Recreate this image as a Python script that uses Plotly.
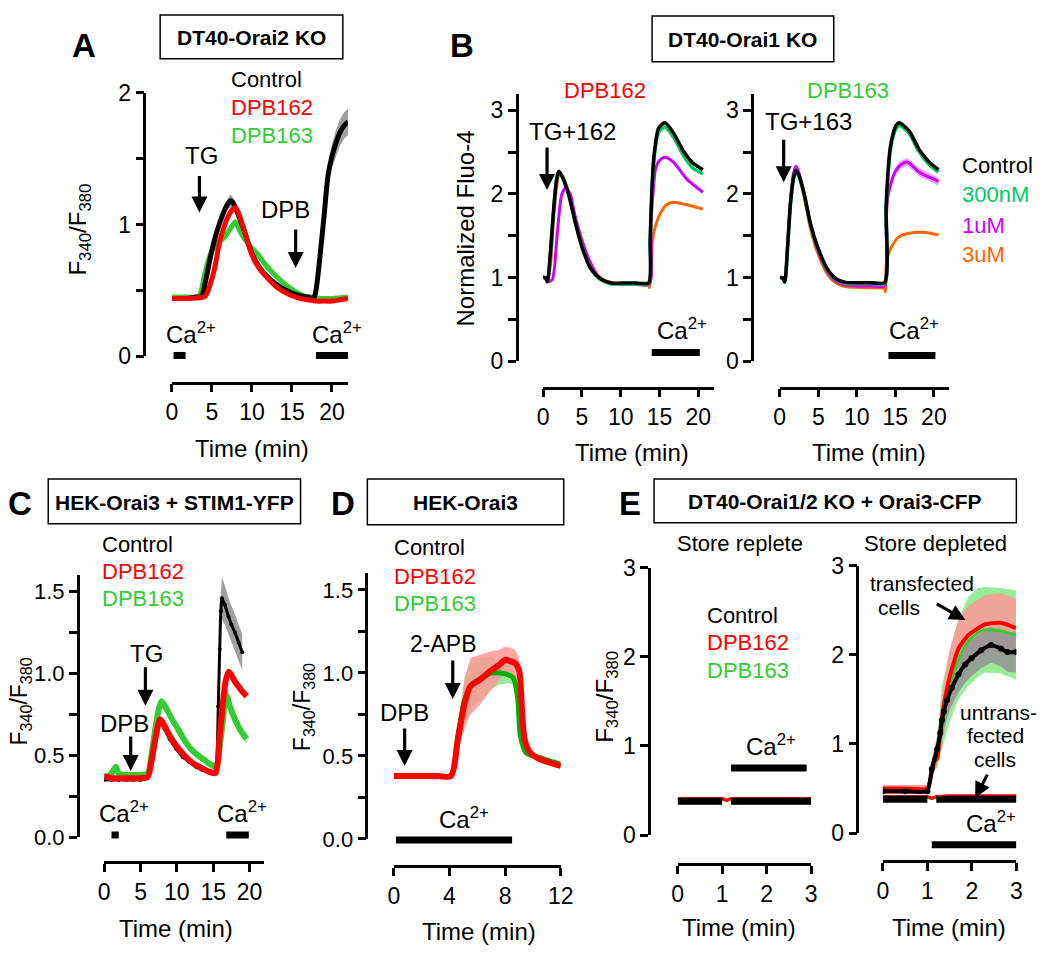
import plotly.graph_objects as go

W, H = 1050, 959
FONT = "Liberation Sans, Arial, Helvetica, sans-serif"

BLACK = "#000000"
RED = "#ff0000"
GREEN = "#33cc33"
TEAL = "#00cc66"
PURPLE = "#cc00ff"
ORANGE = "#ff6600"
GRAY_BAND = "rgba(150,150,150,0.9)"
PINK_BAND = "rgba(255,150,150,0.85)"
LGREEN_BAND = "rgba(140,235,140,0.9)"
LPURPLE_BAND = "rgba(225,150,255,0.8)"

# ---------------- DATA ----------------
# Panel A  (DT40-Orai2 KO)
A_ctrl_t = [0, 1, 2, 3, 3.5, 3.8, 4.3, 4.8, 5.3, 6, 6.5, 7, 7.3, 7.7, 8, 8.5, 9, 10, 11, 12, 13, 14, 15, 16, 17, 17.7,
            18, 18.5, 19, 19.5, 20, 20.5, 21, 21.5, 22]
A_ctrl = [0.44, 0.44, 0.44, 0.45, 0.45, 0.47, 0.60, 0.75, 0.88, 1.02, 1.10, 1.16, 1.18, 1.16, 1.12, 1.04, 0.96, 0.78,
          0.67, 0.60, 0.55, 0.51, 0.48, 0.46, 0.45, 0.44, 0.50, 0.76, 1.06, 1.37, 1.52, 1.62, 1.70, 1.75, 1.78]
A_ctrl_sem = [0.01, 0.01, 0.01, 0.01, 0.01, 0.01, 0.02, 0.02, 0.03, 0.03, 0.04, 0.04, 0.05, 0.04, 0.04, 0.03, 0.03,
              0.02, 0.02, 0.02, 0.01, 0.01, 0.01, 0.01, 0.01, 0.01, 0.02, 0.04, 0.06, 0.08, 0.09, 0.10, 0.10, 0.10, 0.10]
A_162_t = [0, 2, 4, 4.3, 4.8, 5.3, 6, 6.5, 7, 7.5, 7.9, 8.3, 9, 10, 11, 12, 13, 14, 15, 16, 17, 18, 19, 20, 21, 22]
A_162 = [0.44, 0.44, 0.45, 0.47, 0.55, 0.66, 0.88, 0.98, 1.06, 1.11, 1.13, 1.09, 0.96, 0.77, 0.66, 0.59, 0.53, 0.49,
         0.46, 0.44, 0.43, 0.42, 0.42, 0.42, 0.43, 0.44]
A_163_t = [0, 2, 3, 3.5, 4, 4.5, 5, 5.8, 6.5, 7.2, 7.9, 8.5, 9.2, 10, 10.8, 11.5, 12.5, 13.5, 14.5, 15.5, 16.5, 17.5,
           18.5, 20, 22]
A_163 = [0.45, 0.45, 0.45, 0.47, 0.60, 0.72, 0.80, 0.87, 0.90, 0.96, 1.02, 0.95, 0.88, 0.82, 0.77, 0.71, 0.64, 0.58,
         0.53, 0.49, 0.46, 0.45, 0.44, 0.44, 0.45]
A_163_sem = [0.01, 0.01, 0.01, 0.02, 0.03, 0.03, 0.03, 0.03, 0.03, 0.03, 0.03, 0.03, 0.03, 0.03, 0.03, 0.03, 0.03,
             0.02, 0.02, 0.02, 0.01, 0.01, 0.01, 0.01, 0.01]

# Panel B left (DPB162)
B162_t = [0, 0.3, 0.55, 0.9, 1.3, 1.7, 2.0, 2.4, 3.3, 4.1, 5.0, 6.2, 7.5, 8.8, 10, 12, 13.6, 13.8, 14.0, 14.3, 14.9,
          15.7, 16.8, 18.1, 19.3, 20.6]
B162_ctrl = [1.0, 1.0, 0.95, 1.25, 1.75, 2.15, 2.27, 2.22, 1.99, 1.68, 1.37, 1.10, 0.98, 0.935, 0.935, 0.935, 0.935,
             1.45, 2.0, 2.46, 2.79, 2.85, 2.73, 2.51, 2.37, 2.29]
B162_300 = [1.0, 1.0, 0.95, 1.23, 1.73, 2.14, 2.26, 2.22, 1.99, 1.68, 1.37, 1.10, 0.97, 0.925, 0.925, 0.925, 0.925,
            1.42, 1.95, 2.42, 2.74, 2.80, 2.68, 2.46, 2.31, 2.24]
B162_1u_t = [0, 0.3, 0.7, 1.2, 1.8, 2.4, 2.9, 3.5, 4.1, 5.0, 6.2, 7.2, 8.4, 10, 12, 13.7, 13.9, 14.2, 14.5, 15.0,
             15.7, 16.8, 18.5, 20.6]
B162_1u = [1.0, 1.0, 0.95, 0.98, 1.50, 1.99, 2.07, 2.00, 1.74, 1.44, 1.16, 1.00, 0.94, 0.92, 0.92, 0.92, 1.64, 2.05,
           2.30, 2.40, 2.44, 2.38, 2.18, 2.02]
B162_3u_t = [0, 0.3, 0.6, 1.0, 1.4, 1.8, 2.1, 2.5, 3.3, 4.1, 5.0, 6.2, 7.5, 8.8, 10, 12, 13.5, 13.7, 14.0, 14.3, 14.7,
             15.3, 15.9, 16.8, 18.5, 20.6]
B162_3u = [1.0, 1.0, 0.96, 1.20, 1.75, 2.12, 2.25, 2.21, 2.02, 1.74, 1.45, 1.14, 0.99, 0.94, 0.93, 0.93, 0.93, 0.88,
           1.37, 1.55, 1.68, 1.80, 1.87, 1.90, 1.87, 1.82]

# Panel B right (DPB163)
B163_t = [0, 0.35, 0.64, 1.0, 1.4, 1.8, 2.1, 2.5, 3.2, 4.0, 4.9, 6.2, 7.4, 8.7, 10, 12, 13.6, 13.8, 14.0, 14.3, 14.7,
          15.1, 15.5, 16.8, 18.1, 19.4, 20.6]
B163_ctrl = [1.0, 1.0, 0.95, 1.35, 1.90, 2.20, 2.28, 2.22, 1.99, 1.64, 1.37, 1.10, 0.98, 0.94, 0.94, 0.94, 0.94, 1.84,
             2.20, 2.53, 2.72, 2.82, 2.85, 2.75, 2.53, 2.38, 2.29]
B163_300 = [1.0, 1.0, 0.94, 1.33, 1.88, 2.18, 2.26, 2.21, 1.98, 1.63, 1.36, 1.09, 0.97, 0.93, 0.93, 0.93, 0.93, 1.80,
            2.15, 2.48, 2.68, 2.78, 2.82, 2.72, 2.50, 2.35, 2.26]
B163_1u_t = [0, 0.35, 0.64, 1.0, 1.4, 1.8, 2.1, 2.5, 3.2, 4.0, 4.9, 6.2, 7.4, 8.7, 10, 12, 13.6, 13.8, 14.0, 14.5,
             15.0, 15.7, 16.6, 18.1, 19.4, 20.6]
B163_1u = [1.0, 1.0, 0.95, 1.35, 1.92, 2.25, 2.33, 2.25, 1.98, 1.62, 1.34, 1.07, 0.95, 0.91, 0.90, 0.90, 0.90, 1.64,
           1.95, 2.15, 2.27, 2.35, 2.38, 2.26, 2.20, 2.15]
B163_1u_sem = [0.01, 0.01, 0.01, 0.02, 0.02, 0.02, 0.02, 0.02, 0.02, 0.02, 0.02, 0.02, 0.02, 0.02, 0.02, 0.02, 0.02,
               0.04, 0.05, 0.05, 0.05, 0.05, 0.05, 0.05, 0.05, 0.05]
B163_3u_t = [0, 0.35, 0.64, 1.0, 1.4, 1.8, 2.1, 2.5, 3.2, 4.0, 4.9, 6.2, 7.4, 8.7, 10, 12, 13.6, 13.7, 13.8, 14.0,
             14.5, 15.5, 16.8, 18.9, 20.6]
B163_3u = [1.0, 1.0, 0.95, 1.35, 1.92, 2.23, 2.31, 2.22, 1.95, 1.58, 1.30, 1.04, 0.93, 0.89, 0.885, 0.88, 0.87, 0.83,
           1.14, 1.25, 1.37, 1.49, 1.53, 1.54, 1.51]

# Panel C (HEK-Orai3 + STIM1-YFP)
C_ctrl_t = [0, 1, 2, 3, 4, 5, 5.9, 6.5, 7, 7.7, 8.3, 9, 9.9, 10.8, 11.7, 12.6, 13.5, 14.4, 15.3, 15.5, 15.7, 15.9,
            16.05, 16.2, 16.6, 17.1, 17.5, 18.0, 18.5, 19.0]
C_ctrl = [0.35, 0.35, 0.35, 0.35, 0.35, 0.35, 0.36, 0.45, 0.57, 0.70, 0.66, 0.60, 0.54, 0.49, 0.46, 0.43, 0.41, 0.40,
          0.39, 0.45, 0.80, 1.15, 1.38, 1.46, 1.42, 1.35, 1.30, 1.25, 1.19, 1.13]
C_ctrl_sem = [0.01, 0.01, 0.01, 0.01, 0.01, 0.01, 0.01, 0.01, 0.01, 0.01, 0.01, 0.01, 0.01, 0.01, 0.01, 0.01, 0.01,
              0.01, 0.01, 0.02, 0.05, 0.08, 0.11, 0.13, 0.12, 0.11, 0.11, 0.11, 0.11, 0.11]
C_162_t = [0, 1, 2, 3, 4, 5, 6, 6.5, 7, 7.7, 8.3, 9, 9.9, 10.8, 11.7, 12.6, 13.5, 14.4, 15.3, 15.6, 15.9, 16.3, 16.7,
           17.1, 17.5, 18.0, 18.5, 19.0, 19.6]
C_162 = [0.37, 0.36, 0.36, 0.36, 0.36, 0.36, 0.37, 0.46, 0.59, 0.72, 0.68, 0.62, 0.56, 0.51, 0.47, 0.44, 0.42, 0.40,
         0.39, 0.45, 0.62, 0.80, 0.95, 1.01, 0.99, 0.95, 0.92, 0.89, 0.86]
C_163_t = [0, 0.8, 1.3, 1.6, 2.0, 3, 4, 5, 6, 6.5, 7, 7.5, 7.9, 8.5, 9.2, 9.9, 10.8, 11.7, 12.6, 13.5, 14.4, 15.3,
           15.6, 15.9, 16.3, 16.6, 16.9, 17.3, 18.0, 18.8, 19.6]
C_163 = [0.37, 0.38, 0.41, 0.43, 0.39, 0.38, 0.38, 0.38, 0.39, 0.50, 0.65, 0.78, 0.83, 0.79, 0.73, 0.68, 0.61, 0.55,
         0.51, 0.48, 0.45, 0.43, 0.45, 0.55, 0.70, 0.82, 0.86, 0.80, 0.72, 0.65, 0.60]
C_163_sem = [0.01, 0.01, 0.01, 0.01, 0.01, 0.01, 0.01, 0.01, 0.01, 0.02, 0.02, 0.02, 0.02, 0.02, 0.02, 0.02, 0.02,
             0.02, 0.02, 0.02, 0.02, 0.02, 0.02, 0.03, 0.05, 0.06, 0.06, 0.05, 0.04, 0.03, 0.03]

# Panel D (HEK-Orai3)
D_162_t = [0, 1, 2, 3, 4.1, 4.6, 5.1, 5.5, 6.2, 6.9, 7.6, 8.0, 8.4, 8.7, 9.0, 9.1, 9.2, 9.4, 9.8, 10.5, 11.2, 12]
D_162 = [0.38, 0.38, 0.38, 0.38, 0.38, 0.60, 0.82, 0.92, 0.96, 1.01, 1.05, 1.08, 1.07, 1.06, 1.02, 0.95, 0.80, 0.60,
         0.52, 0.48, 0.46, 0.44]
D_162_sem = [0.01, 0.01, 0.01, 0.01, 0.01, 0.08, 0.15, 0.17, 0.15, 0.12, 0.09, 0.08, 0.08, 0.08, 0.07, 0.05, 0.04,
             0.03, 0.02, 0.01, 0.01, 0.01]
D_163_t = [0, 1, 2, 3, 4.1, 4.6, 5.1, 5.6, 6.3, 7.0, 7.6, 8.2, 8.6, 8.9, 9.1, 9.5, 10.5, 11.2, 12]
D_163 = [0.38, 0.38, 0.38, 0.38, 0.38, 0.62, 0.84, 0.93, 0.97, 1.00, 1.00, 0.99, 0.97, 0.85, 0.62, 0.52, 0.49, 0.47,
         0.45]
D_163_sem = [0.01, 0.01, 0.01, 0.01, 0.01, 0.08, 0.14, 0.14, 0.13, 0.10, 0.07, 0.05, 0.04, 0.03, 0.02, 0.02, 0.01,
             0.01, 0.01]

# Panel E left (store replete)
E1_ctrl_t = [0, 0.5, 1.0, 1.05, 1.2, 1.5, 2, 2.5, 3]
E1_ctrl = [0.38, 0.38, 0.38, None, 0.38, 0.38, 0.38, 0.38, 0.38]
E1_t = [0, 0.5, 1.0, 1.1, 1.2, 1.5, 2, 2.5, 3]
E1_162 = [0.41, 0.41, 0.41, 0.39, 0.41, 0.41, 0.41, 0.41, 0.41]
E1_163 = [0.40, 0.40, 0.40, 0.39, 0.40, 0.40, 0.40, 0.40, 0.40]

# Panel E right (store depleted) - transfected
E2_ctrl_t = [0, 0.5, 1.0, 1.1, 1.22, 1.29, 1.33, 1.37, 1.44, 1.55, 1.7, 1.85, 1.99, 2.21, 2.43, 2.65, 2.8, 2.99]
E2_ctrl = [0.47, 0.47, 0.47, 0.72, 0.94, 1.12, 1.27, 1.36, 1.49, 1.63, 1.78, 1.89, 1.96, 2.05, 2.11, 2.07, 2.03, 2.03]
E2_ctrl_sem = [0.03, 0.03, 0.03, 0.10, 0.15, 0.18, 0.20, 0.20, 0.20, 0.20, 0.20, 0.20, 0.20, 0.20, 0.20, 0.20, 0.22,
               0.23]
E2_162_t = [0, 0.5, 1.0, 1.15, 1.22, 1.33, 1.5, 1.7, 1.92, 2.29, 2.65, 2.99]
E2_162 = [0.50, 0.50, 0.50, 0.80, 0.84, 1.30, 1.75, 2.07, 2.22, 2.34, 2.36, 2.30]
E2_162_sem = [0.04, 0.04, 0.04, 0.08, 0.10, 0.25, 0.30, 0.32, 0.33, 0.33, 0.33, 0.33]
E2_163_t = [0, 0.5, 1.0, 1.15, 1.2, 1.33, 1.5, 1.7, 1.92, 2.14, 2.29, 2.65, 2.99]
E2_163 = [0.50, 0.50, 0.50, 0.84, 0.86, 1.30, 1.65, 1.95, 2.15, 2.25, 2.28, 2.27, 2.22]
E2_163_sem = [0.03, 0.03, 0.03, 0.10, 0.15, 0.35, 0.40, 0.45, 0.50, 0.50, 0.48, 0.48, 0.50]
# untransfected
E2u_ctrl_t = [0, 0.5, 1.0, 1.05, 1.2, 1.5, 2, 2.5, 3]
E2u_ctrl = [0.38, 0.38, 0.38, None, 0.38, 0.38, 0.38, 0.38, 0.38]
E2u_t = [0, 0.5, 1.0, 1.1, 1.2, 1.5, 2, 2.5, 3]
E2u_162 = [0.41, 0.41, 0.41, 0.39, 0.41, 0.42, 0.42, 0.42, 0.42]
E2u_163 = [0.40, 0.40, 0.40, 0.39, 0.40, 0.41, 0.41, 0.41, 0.41]

# Ca2+ application windows (min)
CA_A = [[0.2, 1.7], [18.0, 22.2]]
CA_B1 = [[14.0, 20.2]]
CA_B2 = [[14.1, 20.2]]
CA_C = [[1.0, 2.0], [16.8, 19.9]]
CA_D = [[0.15, 8.5]]
CA_E1 = [[1.2, 2.9]]
CA_E2 = [[1.1, 3.0]]


# ---------------- helpers ----------------
def px(x):
    return x / W


def py(y):
    return 1 - y / H


fig = go.Figure()


def axn(ax, c):
    return c + ("" if ax == 1 else str(ax))


def line(ax, t, v, color, width, shape="spline", markers=0, smooth=0.7):
    mode = "lines+markers" if markers else "lines"
    fig.add_trace(go.Scatter(
        x=t, y=v, mode=mode, xaxis=axn(ax, "x"), yaxis=axn(ax, "y"),
        line=dict(color=color, width=width, shape=shape, smoothing=smooth if shape == "spline" else None),
        marker=dict(size=markers, color=color) if markers else None,
        hoverinfo="skip", showlegend=False, connectgaps=False))


def band(ax, t, v, sem, color):
    up = [a + b for a, b in zip(v, sem)]
    lo = [a - b for a, b in zip(v, sem)]
    fig.add_trace(go.Scatter(
        x=list(t) + list(t)[::-1], y=up + lo[::-1], mode="lines", fill="toself",
        fillcolor=color, line=dict(width=0, color=color),
        xaxis=axn(ax, "x"), yaxis=axn(ax, "y"), hoverinfo="skip", showlegend=False))


# ---------------- traces ----------------
# A
band(1, A_163_t, A_163, A_163_sem, LGREEN_BAND)
band(1, A_ctrl_t, A_ctrl, A_ctrl_sem, GRAY_BAND)
line(1, A_163_t, A_163, GREEN, 5)
line(1, A_ctrl_t, A_ctrl, BLACK, 5)
line(1, A_162_t, A_162, RED, 5)

# B left
line(2, B162_3u_t, B162_3u, ORANGE, 3)
line(2, B162_1u_t, B162_1u, PURPLE, 3)
line(2, B162_t, B162_300, TEAL, 3.5)
line(2, B162_t, B162_ctrl, BLACK, 3.5)
# B right
band(3, B163_1u_t, B163_1u, B163_1u_sem, LPURPLE_BAND)
line(3, B163_3u_t, B163_3u, ORANGE, 3)
line(3, B163_1u_t, B163_1u, PURPLE, 3)
line(3, B163_t, B163_300, TEAL, 3.5)
line(3, B163_t, B163_ctrl, BLACK, 3.5)

# C
band(4, C_ctrl_t, C_ctrl, C_ctrl_sem, GRAY_BAND)
band(4, C_163_t, C_163, C_163_sem, LGREEN_BAND)
line(4, C_163_t, C_163, GREEN, 6)
line(4, C_ctrl_t, C_ctrl, BLACK, 3, markers=4)
line(4, C_162_t, C_162, RED, 6)

# D
band(5, D_163_t, D_163, D_163_sem, LGREEN_BAND)
band(5, D_162_t, D_162, D_162_sem, PINK_BAND)
line(5, D_163_t, D_163, "#00b000", 5)
line(5, D_162_t, D_162, RED, 6)

# E left
line(6, E1_t, E1_163, GREEN, 3, shape="linear")
line(6, E1_t, E1_162, RED, 3, shape="linear")
line(6, E1_ctrl_t, E1_ctrl, BLACK, 7, shape="linear")

# E right
band(7, E2_163_t, E2_163, E2_163_sem, LGREEN_BAND)
band(7, E2_162_t, E2_162, E2_162_sem, PINK_BAND)
band(7, E2_ctrl_t, E2_ctrl, E2_ctrl_sem, GRAY_BAND)
line(7, E2_163_t, E2_163, GREEN, 3, smooth=0.5)
line(7, E2_162_t, E2_162, RED, 4, smooth=0.5)
line(7, E2_ctrl_t, E2_ctrl, BLACK, 4, markers=6, smooth=0.5)
line(7, E2u_t, E2u_163, GREEN, 3, shape="linear")
line(7, E2u_t, E2u_162, RED, 3, shape="linear")
line(7, E2u_ctrl_t, E2u_ctrl, BLACK, 7, shape="linear")

# ---------------- axes ----------------
AX = {
    1: dict(x=(169, 348.3), xr=[0, 22], xline=380, y=(82, 353), yr=[0, 2], yline=141, xd=5, yd=1, ym=0.5, yf=""),
    2: dict(x=(547, 720.8), xr=[0, 22], xline=385, y=(82.8, 358), yr=[0, 3.2], yline=520, xd=5, yd=1, ym=0.5, yf=""),
    3: dict(x=(788, 960.7), xr=[0, 22], xline=385, y=(82.8, 358), yr=[0, 3.2], yline=760, xd=5, yd=1, ym=0.5, yf=""),
    4: dict(x=(100, 262.8), xr=[0, 22], xline=873, y=(578, 847), yr=[0, 1.6], yline=73, xd=5, yd=0.5, ym=0.25,
            yf=".1f"),
    5: dict(x=(395, 565), xr=[0, 12], xline=877, y=(576, 849), yr=[0, 1.6], yline=367, xd=4, yd=0.5, ym=0.25,
            yf=".1f"),
    6: dict(x=(684, 820), xr=[0, 3], xline=875, y=(570, 845), yr=[0, 3], yline=655, xd=1, yd=1, ym=None, yf=""),
    7: dict(x=(893, 1029), xr=[0, 3], xline=872, y=(568, 843), yr=[0, 3], yline=867, xd=1, yd=1, ym=None, yf=""),
}

common = dict(showline=True, linecolor="black", linewidth=2.5, ticks="outside", ticklen=8, tickwidth=2.5,
              tickcolor="black", showgrid=False, zeroline=False, anchor="free", fixedrange=True)
lay = {}
for k, a in AX.items():
    fs = 22 if k in (4, 5) else 23
    tf = dict(family=FONT, size=fs, color="black")
    xa = dict(common, domain=[px(a["x"][0]), px(a["x"][1])], range=a["xr"], position=py(a["xline"]),
              dtick=a["xd"], tick0=0, tickfont=dict(family=FONT, size=23, color="black"))
    ya = dict(common, domain=[py(a["y"][1]), py(a["y"][0])], range=a["yr"], position=px(a["yline"]),
              dtick=a["yd"], tick0=0, tickformat=a["yf"], tickfont=tf)
    if a["ym"]:
        ya["minor"] = dict(dtick=a["ym"], tick0=0, ticks="outside", ticklen=8, tickwidth=2.5, tickcolor="black",
                           showgrid=False)
    lay[axn(k, "xaxis")] = xa
    lay[axn(k, "yaxis")] = ya

# ---------------- annotations & shapes ----------------
ann = []
shapes = []


def txt(s, x, y, size=24, color="black", xanchor="center", angle=0):
    ann.append(dict(text=s, x=px(x), y=py(y), xref="paper", yref="paper", showarrow=False, xanchor=xanchor,
                    yanchor="middle", textangle=angle, font=dict(family=FONT, size=size, color=color)))


def arrow(x0, y0, x1, y1):
    ann.append(dict(text="", x=px(x1), y=py(y1), xref="paper", yref="paper", showarrow=True, ax=x0 - x1,
                    ay=y0 - y1, arrowhead=2, arrowsize=1, arrowwidth=3.2, arrowcolor="black"))


def box(x0, y0, x1, y1, label):
    shapes.append(dict(type="rect", xref="paper", yref="paper", x0=px(x0), x1=px(x1), y0=py(y1), y1=py(y0),
                       line=dict(color="black", width=1.5)))
    txt("<b>" + label + "</b>", (x0 + x1) / 2, (y0 + y1) / 2 + 1, size=21)


def cabars(ax, wins, ypix):
    for w in wins:
        shapes.append(dict(type="line", xref=axn(ax, "x"), yref="paper", x0=w[0], x1=w[1],
                           y0=py(ypix), y1=py(ypix), line=dict(color="black", width=7)))


CA = "Ca<sup>2+</sup>"
FR = "F<sub>340</sub>/F<sub>380</sub>"
TM = "Time (min)"

# Panel letters
for s, x, y in [("A", 79, 33), ("B", 464, 33), ("C", 14, 504), ("D", 343, 504), ("E", 636, 504)]:
    txt("<b>" + s + "</b>", x, y, size=33)

# boxes
box(157, 2, 343, 47, "DT40-Orai2 KO")
box(658, 3, 843, 50, "DT40-Orai1 KO")
box(43, 479, 300, 525, "HEK-Orai3 + STIM1-YFP")
box(368, 479, 568, 526, "HEK-Orai3")
box(660, 479, 1029, 524, "DT40-Orai1/2 KO + Orai3-CFP")

# axis titles
for x, y in [(251, 448), (638, 452), (879, 452), (173, 941), (482, 944), (747, 940), (960, 940)]:
    txt(TM, x, y, size=24)
txt(FR, 75, 223, size=24, angle=-90)
txt("Normalized Fluo-4", 468, 222, size=24, angle=-90)
txt(FR, 15, 708, size=23, angle=-90)
txt(FR, 303, 714, size=23, angle=-90)
txt(FR, 612, 703, size=24, angle=-90)

# legends
for (x, ys) in [(227, (68, 97, 126)), (96, (546, 574, 602)), (393, (549, 579, 607)), (712, (619, 647, 676))]:
    txt("Control", x, ys[0], size=22, color=BLACK, xanchor="left")
    txt("DPB162", x, ys[1], size=22, color=RED, xanchor="left")
    txt("DPB163", x, ys[2], size=22, color=GREEN, xanchor="left")
txt("Control", 972, 157, size=22, color=BLACK, xanchor="left")
txt("300nM", 972, 187, size=22, color=TEAL, xanchor="left")
txt("1uM", 972, 218, size=22, color=PURPLE, xanchor="left")
txt("3uM", 972, 248, size=22, color=ORANGE, xanchor="left")
txt("DPB162", 610, 80, size=22, color=RED)
txt("DPB163", 858, 80, size=22, color=GREEN)

# treatment labels and arrows
txt("TG", 199, 146)
arrow(197, 167, 197, 205)
txt("DPB", 285, 202)
arrow(295, 222, 295, 262)
txt("TG+162", 577, 122)
arrow(551, 138, 551, 182)
txt("TG+163", 817, 112)
arrow(792, 130, 792, 174)
txt("TG", 143, 658)
arrow(142, 672, 142, 712)
txt("DPB", 121, 730)
arrow(127, 743, 127, 779)
txt("2-APB", 445, 649, size=23)
arrow(455, 665, 455, 705)
txt("DPB", 406, 719)
arrow(406, 735, 406, 774)

# Ca2+ labels
for x, y in [(188, 329), (337, 329), (688, 325), (925, 325), (120, 821), (240, 821), (466, 827), (779, 752),
             (1003, 832)]:
    txt(CA, x, y, size=24)
cabars(1, CA_A, 352)
cabars(2, CA_B1, 349)
cabars(3, CA_B2, 352)
cabars(4, CA_C, 845)
cabars(5, CA_D, 850)
cabars(6, CA_E1, 776)
cabars(7, CA_E2, 855)

# Panel E texts
txt("Store replete", 748, 545, size=22)
txt("Store depleted", 947, 545, size=22)
txt("transfected", 933, 586, size=21)
txt("cells", 909, 611, size=21)
arrow(947, 607, 977, 624)
txt("untrans-", 1011, 719, size=21)
txt("fected", 1008, 743, size=21)
txt("cells", 1007, 767, size=21)
arrow(1000, 782, 987, 807)

fig.update_layout(
    width=W, height=H, margin=dict(l=0, r=0, t=0, b=0), paper_bgcolor="white", plot_bgcolor="rgba(0,0,0,0)",
    showlegend=False, annotations=ann, shapes=shapes, font=dict(family=FONT, color="black"), **lay)

fig.write_html("out.html", config={"displayModeBar": False},
               post_script="document.body.style.margin='0';document.body.style.overflow='hidden';")
